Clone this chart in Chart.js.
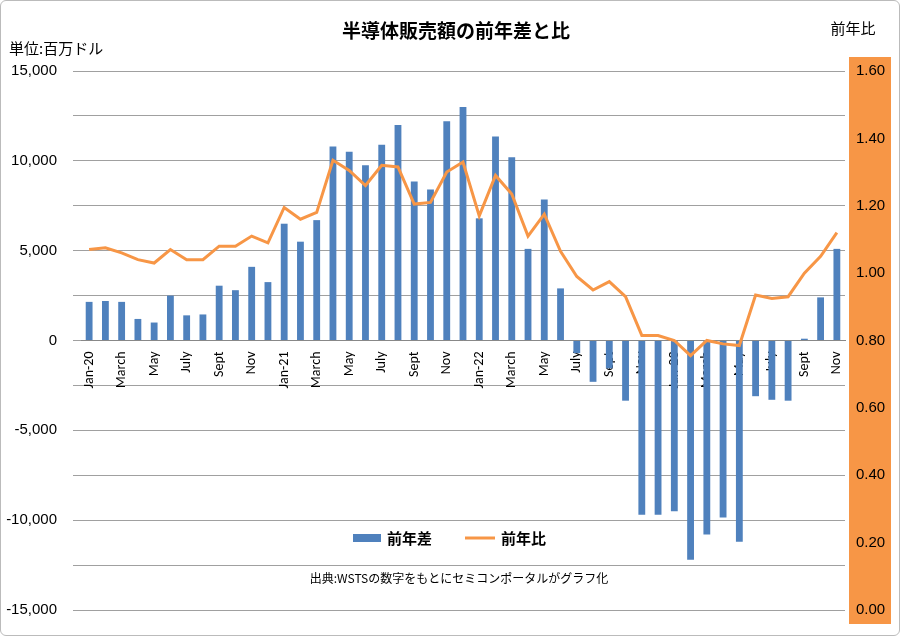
<!DOCTYPE html>
<html><head><meta charset="utf-8">
<script src="https://cdn.jsdelivr.net/npm/chart.js@4/dist/chart.umd.min.js"></script>
<style>body{margin:0;background:#fff}#w{width:898px;height:634px;border:1px solid #bbb;border-radius:6px;overflow:hidden}</style>
</head><body><div id="w"><canvas id="c" width="898" height="634"></canvas></div>
<script>
const months=["Jan-20","Feb","March","Apr","May","Jun","July","Aug","Sept","Oct","Nov","Dec",
"Jan-21","Feb","March","Apr","May","Jun","July","Aug","Sept","Oct","Nov","Dec",
"Jan-22","Feb","March","Apr","May","Jun","July","Aug","Sept","Oct","Nov","Dec",
"Jan-23","Feb","March","Apr","May","Jun","July","Aug","Sept","Oct","Nov"];
const diffValues=[2150,2200,2150,1200,1000,2500,1400,1450,3050,2800,4100,3250,
6500,5500,6700,10800,10500,9750,10900,12000,8850,8400,12200,13000,
6800,11350,10200,5100,7850,2900,-700,-2300,-1550,-3350,-9700,-9700,
-9500,-12200,-10800,-9850,-11200,-3100,-3300,-3350,100,2400,5100];
const ratioValues=[1.07,1.075,1.06,1.04,1.03,1.07,1.04,1.04,1.08,1.08,1.11,1.09,
1.195,1.16,1.18,1.335,1.305,1.26,1.32,1.315,1.205,1.21,1.30,1.33,
1.17,1.29,1.235,1.11,1.175,1.065,0.99,0.95,0.975,0.93,0.815,0.815,
0.80,0.755,0.80,0.79,0.785,0.935,0.925,0.93,1.00,1.05,1.12];
const F='"Noto Sans CJK JP", sans-serif';
const deco={id:'deco',beforeDraw(ch){const c=ch.ctx,a=ch.chartArea;c.save();
 c.fillStyle='#F79646';c.fillRect(a.right+4,a.top-14,42,a.bottom-a.top+28);c.restore();},
 afterDraw(ch){const c=ch.ctx,a=ch.chartArea;c.save();c.fillStyle='#000';
 c.font='bold 19px '+F;c.textAlign='center';c.fillText('半導体販売額の前年差と比',455,37);
 c.font='15px '+F;c.textAlign='left';c.fillText('単位:百万ドル',8,53);
 c.textAlign='center';c.fillText('前年比',852,33);
 c.fillStyle='#fff';c.fillRect(345,524,235,28);
 c.fillStyle='#4F81BD';c.fillRect(352,533,28,8);
 c.fillStyle='#000';c.font='bold 15px '+F;c.textAlign='left';c.textBaseline='middle';
 c.fillText('前年差',386,537);
 c.strokeStyle='#F79646';c.lineWidth=3;c.beginPath();c.moveTo(464,537);c.lineTo(494,537);c.stroke();
 c.fillText('前年比',500,537);
 c.fillStyle='#fff';c.fillRect(268,566,385,22);
 c.fillStyle='#000';c.font='12px '+F;c.textAlign='center';
 c.fillText('出典:WSTSの数字をもとにセミコンポータルがグラフ化',458,577);
 c.restore();}};
new Chart(document.getElementById('c'),{
 data:{labels:months,datasets:[
  {type:'line',data:ratioValues,yAxisID:'y2',borderColor:'#F79646',borderWidth:3,pointRadius:0,tension:0,order:0},
  {type:'bar',data:diffValues,yAxisID:'y',backgroundColor:'#4F81BD',barPercentage:0.42,categoryPercentage:1,order:1}]},
 options:{responsive:false,animation:false,
  layout:{padding:{top:70,bottom:20,left:0,right:0}},
  plugins:{legend:{display:false},tooltip:{enabled:false}},
  scales:{
   x:{position:{y:0},grid:{display:false},border:{color:'#888'},
    ticks:{autoSkip:false,minRotation:90,maxRotation:90,color:'#000',font:{size:14,family:'Calibri, "Liberation Sans", sans-serif'},
     callback:(v,i)=>i%2===0?months[i]:''}},
   y:{min:-15000,max:15000,afterFit:s=>{s.width=80},
    ticks:{stepSize:2500,padding:16,color:'#000',font:{size:15,family:'"Liberation Sans", sans-serif'},
     callback:v=>v%5000===0?v.toLocaleString('en-US'):''},
    grid:{color:'#a0a0a0'},border:{display:false}},
   y2:{position:'right',min:0,max:1.6,afterFit:s=>{s.width=54},
    ticks:{stepSize:0.2,color:'#000',font:{size:15,family:'"Liberation Sans", sans-serif'},callback:v=>v.toFixed(2)},
    grid:{display:false},border:{display:false}}}},
 plugins:[deco]});
</script></body></html>
